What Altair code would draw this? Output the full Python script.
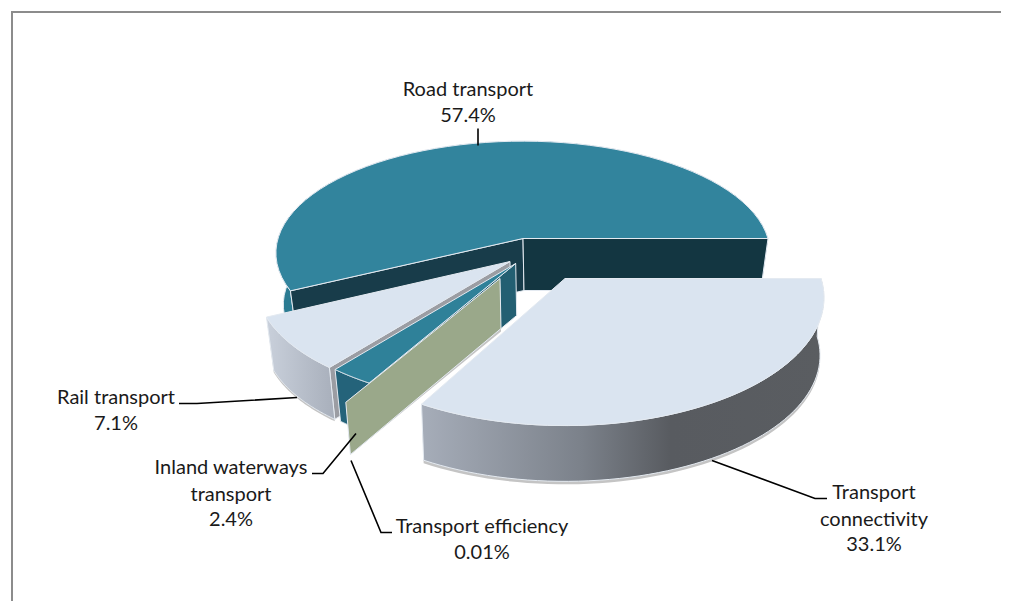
import math
import altair as alt
import pandas as pd

# Data
categories = ["Road transport", "Rail transport", "Inland waterways transport",
              "Transport efficiency", "Transport connectivity"]
shares = [57.4, 7.1, 2.4, 0.01, 33.1]

label_lines = [
    ["Road transport", "57.4%"],
    ["Rail transport", "7.1%"],
    ["Inland waterways", "transport", "2.4%"],
    ["Transport efficiency", "0.01%"],
    ["Transport", "connectivity", "33.1%"],
]
label_centers = [(468, [89, 115]), (116, [397, 423]), (231, [467, 494, 519]),
                 (482, [526, 552]), (874, [492, 519, 544])]

leaders = [
    [(478, 128), (478, 145)],
    [(179, 403), (197, 403), (297, 397)],
    [(312, 473), (323, 473), (356, 433)],
    [(351, 460), (381, 532), (392, 532)],
    [(712, 460), (815, 498), (827, 498)],
]

W, H = 990, 590
X0, Y0 = 11, 10.5
xs = alt.Scale(domain=[X0, X0 + W], range=[0, W], nice=False, zero=False)
ys = alt.Scale(domain=[Y0, Y0 + H], range=[0, H], nice=False, zero=False)


def proj(slc, t, extra=0.0, s=1.0):
    ax, ay, A, B, h, K = slc
    u, v = math.cos(t), math.sin(t)
    w = 1 + K * v
    return (ax + s * A * u / w, ay + extra - s * B * v / w)


def arc(slc, t0, t1, extra=0.0, s=1.0, n=60):
    return [proj(slc, t0 + (t1 - t0) * i / n, extra, s) for i in range(n + 1)]


def poly(pts, fill, stroke=None, sw=1.0):
    pts = list(pts) + [pts[0]]
    df = pd.DataFrame({"x": [p[0] for p in pts], "y": [p[1] for p in pts], "i": range(len(pts))})
    kw = {"fill": fill, "strokeWidth": sw, "strokeJoin": "round"}
    kw["stroke"] = stroke if stroke else "transparent"
    return alt.Chart(df).mark_line(**kw).encode(
        x=alt.X("x:Q", scale=xs, axis=None), y=alt.Y("y:Q", scale=ys, axis=None),
        order=alt.Order("i:Q"))


def grad(stops):
    return alt.Gradient(gradient="linear", x1=0, x2=1, y1=0, y2=0,
                        stops=[alt.GradientStop(offset=o, color=c) for o, c in stops])


def top(slc, t0, t1, fill, stroke):
    return poly([(slc[0], slc[1])] + arc(slc, t0, t1), fill, stroke)


def side(slc, t0, t1, fill, stroke, pad=0.0, s=0.97):
    h = slc[4] + pad
    return poly(arc(slc, t0, t1) + arc(slc, t0, t1, h, s)[::-1], fill, stroke)


def wall(slc, t, fill, stroke, apex_h):
    a = proj(slc, t)
    b = proj(slc, t, slc[4], 0.97)
    return poly([(slc[0], slc[1]), a, b, (slc[0] + 1, slc[1] + apex_h)], fill, stroke)


# cumulative angles (counter-clockwise from 3 o'clock)
tot = sum(shares)
ang = [0.0]
for s_ in shares:
    ang.append(ang[-1] + 2 * math.pi * s_ / tot)

# apex x, apex y, semi-axis x, semi-axis y, depth, perspective
road = (523, 238, 245, 110, 52, 0.13)
rail = (510, 261, 248, 113, 55, 0.2)
water = (515.7, 263, 248, 113, 55, 0.2)
eff = (500, 278, 261, 117, 56, 0.2)
conn = (565, 278, 256, 125, 58, 0.15)

EDGE = "#e4eaf1"
layers = []

# frame
frame = pd.DataFrame({"x": [X0 + 1, X0 + 1, X0 + W], "y": [Y0 + H, Y0 + 1, Y0 + 1], "i": [0, 1, 2]})
layers.append(alt.Chart(frame).mark_line(color="#8c8c8c", strokeWidth=2).encode(
    x=alt.X("x:Q", scale=xs, axis=None), y=alt.Y("y:Q", scale=ys, axis=None), order=alt.Order("i:Q")))

# road slice
layers.append(side(road, ang[0], ang[1], "#2b7b92", EDGE))
layers.append(wall(road, ang[1], "#183c4a", EDGE, 52))
layers.append(wall(road, ang[0], "#133641", EDGE, 52))
layers.append(top(road, ang[0], ang[1], "#32849d", EDGE))

# rail slice
layers.append(side(rail, ang[1], ang[2], "#c4c4c4", None, 2))
layers.append(wall(rail, ang[2], "#9b9da3", EDGE, 52))
layers.append(side(rail, ang[1], ang[2], grad([(0, "#c9d0db"), (1, "#a8afbb")]), EDGE))
layers.append(top(rail, ang[1], ang[2], "#dae4f0", EDGE))

# waterways slice
layers.append(side(water, ang[2], ang[3], "#24637a", EDGE))
layers.append(wall(water, ang[3], "#235f72", EDGE, 52))
layers.append(top(water, ang[2], ang[3], "#2f8199", EDGE))

# efficiency slice (practically only its cut face shows)
layers.append(wall(eff, ang[3], "#c4c4c4", None, 53))
layers.append(wall(eff, ang[3], "#9aa88a", EDGE, 50))

# connectivity slice
layers.append(side(conn, ang[4], ang[5], "#c4c4c4", None, 3, 0.985))
layers.append(side(conn, ang[4], ang[5],
                   grad([(0, "#a6adb9"), (0.4, "#7b818a"), (0.62, "#585b60"), (1, "#5a5d61")]), EDGE, 0, 0.985))
layers.append(top(conn, ang[4], ang[5], "#dae4f0", EDGE))

# leader lines
for pts in leaders:
    df = pd.DataFrame({"x": [p[0] for p in pts], "y": [p[1] for p in pts], "i": range(len(pts))})
    layers.append(alt.Chart(df).mark_line(color="#000000", strokeWidth=1.6).encode(
        x=alt.X("x:Q", scale=xs, axis=None), y=alt.Y("y:Q", scale=ys, axis=None), order=alt.Order("i:Q")))

# labels
rows = []
for lines, (cx, yy) in zip(label_lines, label_centers):
    for t_, y_ in zip(lines, yy):
        rows.append({"t": t_, "x": cx, "y": y_})
layers.append(alt.Chart(pd.DataFrame(rows)).mark_text(
    font="Lato", fontSize=20, color="#1a1a1a", align="center", baseline="middle").encode(
    x=alt.X("x:Q", scale=xs, axis=None), y=alt.Y("y:Q", scale=ys, axis=None), text="t:N"))

chart = alt.layer(*layers).properties(width=W, height=H, padding=0).configure_view(stroke=None)
chart.save("out.html", embed_options={"renderer": "svg", "actions": False})
